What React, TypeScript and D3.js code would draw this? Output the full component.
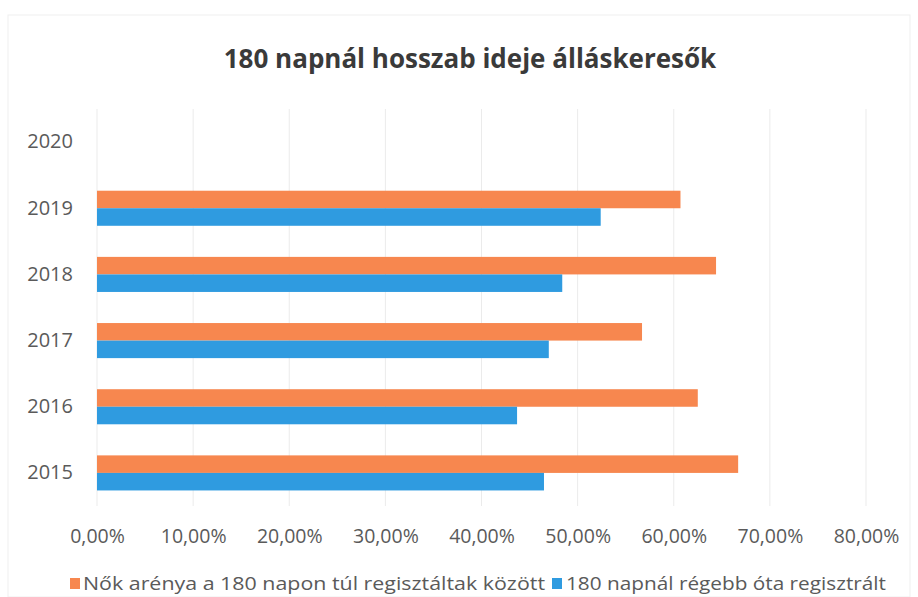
import React, { useEffect, useRef } from 'react';
import * as d3 from 'd3';

const years = ['2015', '2016', '2017', '2018', '2019', '2020'];
const seriesNames = [
  'Nők arénya a 180 napon túl regisztáltak között',
  '180 napnál régebb óta regisztrált',
];
const womenShare = [0.667, 0.625, 0.567, 0.644, 0.607, null];
const longTerm = [0.465, 0.437, 0.47, 0.484, 0.524, null];
const xTicks = [0, 0.1, 0.2, 0.3, 0.4, 0.5, 0.6, 0.7, 0.8];
const colors = ['#F7874F', '#2F9BE0'];

const width = 918;
const height = 597;
const margin = { top: 109, right: 52, bottom: 91, left: 97 };
const font = "'Open Sans', sans-serif";

const App = () => {
  const ref = useRef<SVGSVGElement>(null);

  useEffect(() => {
    const svg = d3.select(ref.current);
    svg.selectAll('*').remove();

    const x = d3.scaleLinear()
      .domain([0, 0.8])
      .range([margin.left, width - margin.right]);

    const y = d3.scaleBand()
      .domain([...years].reverse())
      .range([margin.top, height - margin.bottom])
      .paddingInner(0.47)
      .paddingOuter(0.235);

    const inner = d3.scaleBand()
      .domain(['0', '1'])
      .range([0, y.bandwidth()]);

    svg.append('rect')
      .attr('x', 8).attr('y', 15)
      .attr('width', width - 16).attr('height', height - 15)
      .attr('fill', '#fff')
      .attr('stroke', '#efefef');

    // grid
    svg.append('g')
      .selectAll('line')
      .data(xTicks)
      .enter().append('line')
      .attr('x1', d => x(d)).attr('x2', d => x(d))
      .attr('y1', margin.top).attr('y2', height - margin.bottom)
      .attr('stroke', '#ebebeb')
      .attr('stroke-width', 1);

    const rows = years.map((yr, i) => ({ yr, vals: [womenShare[i], longTerm[i]] }));

    svg.append('g')
      .selectAll('g')
      .data(rows)
      .enter().append('g')
      .attr('transform', d => `translate(0,${y(d.yr)})`)
      .selectAll('rect')
      .data(d => d.vals.map((v, k) => ({ v, k })).filter(e => e.v != null))
      .enter().append('rect')
      .attr('x', x(0))
      .attr('y', d => inner(String(d.k)) as number)
      .attr('height', inner.bandwidth())
      .attr('width', d => x(d.v as number) - x(0))
      .attr('fill', d => colors[d.k]);

    // y labels
    const yAxis = svg.append('g')
      .attr('transform', `translate(${margin.left - 24},0)`)
      .call(d3.axisLeft(y).tickSize(0).tickPadding(0));
    yAxis.select('.domain').remove();
    yAxis.selectAll('text')
      .attr('font-family', font)
      .attr('font-size', 20)
      .attr('fill', '#5a5a5a');

    // x labels
    const xAxis = svg.append('g')
      .attr('transform', `translate(0,${height - margin.bottom + 23})`)
      .call(d3.axisBottom(x).tickValues(xTicks).tickSize(0).tickPadding(0)
        .tickFormat(d => (d as number * 100).toFixed(2).replace('.', ',') + '%'));
    xAxis.select('.domain').remove();
    xAxis.selectAll('text')
      .attr('font-family', font)
      .attr('font-size', 19.5)
      .attr('fill', '#5a5a5a');

    svg.append('text')
      .attr('x', 470).attr('y', 68)
      .attr('text-anchor', 'middle')
      .attr('font-family', font)
      .attr('font-weight', 'bold')
      .attr('font-size', 26)
      .attr('fill', '#3a3a3a')
      .text('180 napnál hosszab ideje álláskeresők');

    // legend
    const legendItems = [
      { x: 70, textX: 83, len: 462 },
      { x: 552, textX: 566, len: 320 },
    ];
    const legend = svg.append('g');
    legendItems.forEach((it, i) => {
      legend.append('rect')
        .attr('x', it.x).attr('y', 578)
        .attr('width', 10).attr('height', 11)
        .attr('fill', colors[i]);
      legend.append('text')
        .attr('x', it.textX).attr('y', 590)
        .attr('font-family', font)
        .attr('font-size', 19)
        .attr('fill', '#5a5a5a')
        .attr('textLength', it.len)
        .attr('lengthAdjust', 'spacingAndGlyphs')
        .text(seriesNames[i]);
    });
  }, []);

  return (
    <svg ref={ref} width={width} height={height}
      style={{ position: 'absolute', left: 0, top: 0, background: '#fff' }} />
  );
};

export default App;
